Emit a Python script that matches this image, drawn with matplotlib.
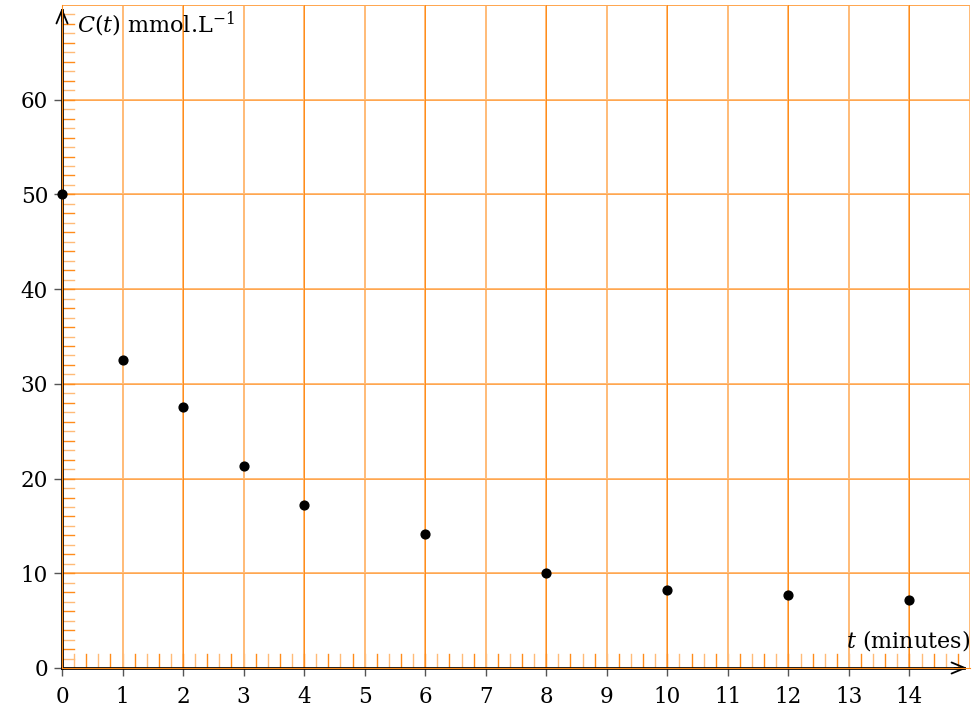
import numpy as np
import matplotlib as mpl
mpl.use('Agg')
import matplotlib.pyplot as plt

# data
t_min = [0, 1, 2, 3, 4, 6, 8, 10, 12, 14]
conc = [50, 32.5, 27.6, 21.3, 17.2, 14.1, 10.0, 8.2, 7.7, 7.2]
x_ticks = list(range(0, 15))
y_ticks = [0, 10, 20, 30, 40, 50, 60]

light = '#ffbb77'
dark = '#ff8c1a'

plt.rcParams['font.family'] = ['DejaVu Serif']
plt.rcParams['mathtext.fontset'] = 'dejavuserif'

fig = plt.figure(figsize=(9.73, 7.17), dpi=100)
ax = fig.add_axes([62 / 973, 1 - 668 / 717, (970 - 62) / 973, (668 - 5) / 717])
ax.set_xlim(0, 15)
ax.set_ylim(0, 70)

# light grid every unit, darker every 2
for x in np.arange(1, 16, 1):
    ax.axvline(x, color=light, lw=1.4, zorder=1)
for x in np.arange(2, 15, 2):
    ax.axvline(x, color=dark, lw=0.7, zorder=1.5)
for y in np.arange(10, 71, 10):
    ax.axhline(y, color=light, lw=1.4, zorder=1)
    ax.axhline(y, color=dark, lw=0.5, alpha=0.6, zorder=1.5)

# small ticks along the axes
for x in np.arange(0.2, 15, 0.2):
    k = int(round(x / 0.2))
    c = dark if k % 2 == 0 else light
    ax.plot([x, x], [0, 1.5], color=c, lw=1.0, zorder=2)
for y in np.arange(1, 70, 1):
    c = dark if y % 2 == 0 else light
    ax.plot([0, 0.2], [y, y], color=c, lw=1.0, zorder=2)

for s in ax.spines.values():
    s.set_visible(False)
ax.plot([0, 14.9], [0, 0], color='black', lw=2, zorder=3, clip_on=False)
ax.plot([0, 0], [0, 69.5], color='black', lw=2, zorder=3, clip_on=False)
ax.plot([0, 15], [0, 0], color=dark, lw=0.8, zorder=3.2, clip_on=False)
ax.plot([0, 0], [0, 70], color=dark, lw=0.8, zorder=3.2, clip_on=False)
ax.annotate('', xy=(15, 0), xytext=(14.7, 0),
            arrowprops=dict(arrowstyle='->,head_length=0.6,head_width=0.25',
                            color='black', lw=1.3, mutation_scale=16),
            annotation_clip=False)
ax.annotate('', xy=(0, 70), xytext=(0, 68),
            arrowprops=dict(arrowstyle='->,head_length=0.6,head_width=0.25',
                            color='black', lw=1.3, mutation_scale=16),
            annotation_clip=False)

ax.scatter(t_min, conc, s=40, color='black', zorder=5, clip_on=False)

ax.set_xticks(x_ticks)
ax.set_yticks(y_ticks)
ax.tick_params(axis='both', color='#555555', length=6, width=1, labelsize=15.5)
ax.tick_params(axis='x', direction='out', pad=7)
ax.tick_params(axis='y', direction='out', pad=4)

ax.text(0.25, 69.5, r'$C(t)$ mmol.L$^{-1}$', fontsize=16, va='top', ha='left', zorder=6)
ax.text(15, 1.6, r'$t$ (minutes)', fontsize=16, va='bottom', ha='right', zorder=6)

fig.savefig('out.png', dpi=100)
